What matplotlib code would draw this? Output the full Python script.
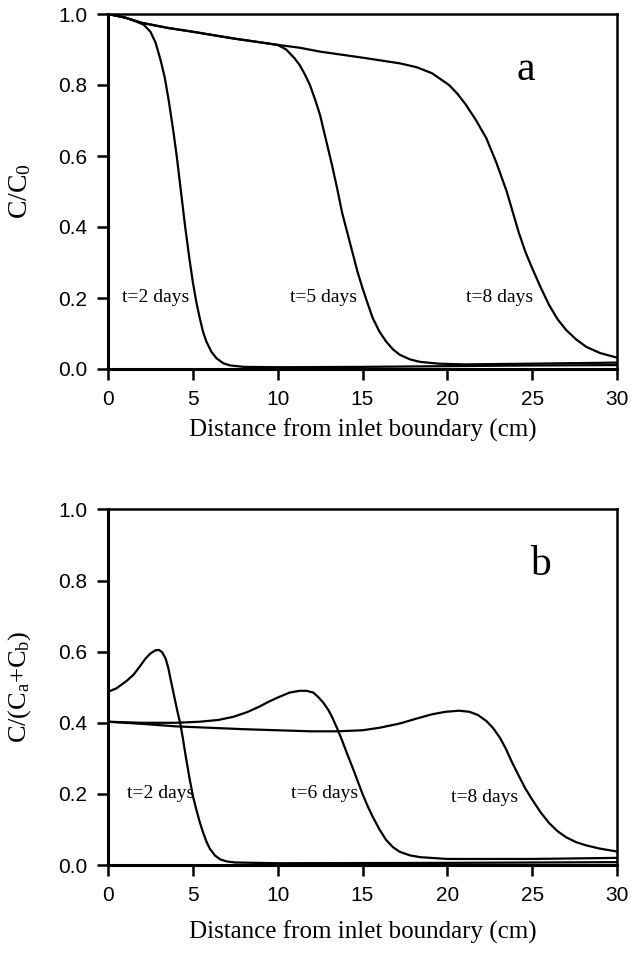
import numpy as np
import matplotlib
matplotlib.use("Agg")
import matplotlib.pyplot as plt

plt.rcParams['mathtext.fontset'] = 'custom'
plt.rcParams['mathtext.rm'] = 'Liberation Serif'
plt.rcParams['mathtext.it'] = 'Liberation Serif:italic'

# ---- panel a : C/C0 profiles ----
a_t2_x = [0, 1.0, 1.6, 2.1, 2.5, 2.8, 3.1, 3.35, 3.6, 3.85, 4.05, 4.3, 4.55, 4.8, 5.0, 5.2,
          5.4, 5.6, 5.8, 6.1, 6.4, 6.8, 7.2, 8, 10, 15, 20, 25, 30]
a_t2_y = [1.0, 0.99, 0.98, 0.97, 0.95, 0.92, 0.87, 0.82, 0.75, 0.67, 0.60, 0.50, 0.40, 0.31,
          0.245, 0.19, 0.145, 0.105, 0.077, 0.048, 0.03, 0.016, 0.01, 0.006, 0.005, 0.006,
          0.008, 0.01, 0.011]

a_t5_x = [0, 1, 2, 3.5, 5, 7.4, 9, 10, 10.5, 11, 11.3, 11.6, 11.9, 12.2, 12.5, 12.85, 13.2,
          13.5, 13.8, 14.1, 14.4, 14.7, 15.0, 15.3, 15.6, 16.0, 16.4, 16.8, 17.2, 17.8, 18.4,
          19.5, 21, 25, 30]
a_t5_y = [1.0, 0.99, 0.975, 0.961, 0.95, 0.931, 0.92, 0.913, 0.90, 0.875, 0.856, 0.83, 0.80,
          0.76, 0.715, 0.645, 0.575, 0.51, 0.44, 0.385, 0.33, 0.275, 0.228, 0.185, 0.144,
          0.105, 0.077, 0.055, 0.04, 0.027, 0.02, 0.015, 0.013, 0.015, 0.018]

a_t8_x = [0, 1, 2, 3.5, 5, 7.4, 10, 11.3, 12.5, 15, 17.2, 18.2, 19.1, 20.1, 20.6, 21.1, 21.7,
          22.3, 22.9, 23.5, 24.2, 24.6, 25.0, 25.5, 26.0, 26.5, 27.0, 27.6, 28.2, 29.0, 30]
a_t8_y = [1.0, 0.99, 0.975, 0.961, 0.95, 0.931, 0.913, 0.905, 0.894, 0.877, 0.861, 0.85,
          0.833, 0.80, 0.775, 0.744, 0.70, 0.65, 0.58, 0.50, 0.386, 0.33, 0.284, 0.23, 0.18,
          0.14, 0.11, 0.083, 0.062, 0.045, 0.032]

# ---- panel b : C/(Ca+Cb) profiles ----
b_t2_x = [0, 0.5, 1.1, 1.5, 1.9, 2.2, 2.5, 2.8, 3.0, 3.2, 3.4, 3.55, 3.7, 3.9, 4.1, 4.25, 4.4,
          4.55, 4.8, 5.0, 5.2, 5.4, 5.6, 5.8, 6.0, 6.3, 6.6, 7.0, 7.5, 10, 20, 30]
b_t2_y = [0.487, 0.497, 0.518, 0.535, 0.56, 0.58, 0.595, 0.604, 0.605, 0.598, 0.58, 0.555,
          0.52, 0.475, 0.43, 0.40, 0.36, 0.315, 0.245, 0.195, 0.157, 0.122, 0.092, 0.066,
          0.046, 0.027, 0.016, 0.01, 0.007, 0.005, 0.006, 0.008]

b_t6_x = [0, 2, 4, 5.4, 6.5, 7.4, 8.2, 8.9, 9.5, 10.1, 10.7, 11.3, 11.7, 12.1, 12.4, 12.7,
          13.0, 13.2, 13.5, 13.8, 14.1, 14.4, 14.7, 15.0, 15.3, 15.6, 16.0, 16.4, 16.8, 17.2,
          17.8, 18.4, 20, 25, 30]
b_t6_y = [0.403, 0.400, 0.400, 0.403, 0.408, 0.417, 0.43, 0.445, 0.46, 0.473, 0.485, 0.49,
          0.49, 0.485, 0.472, 0.456, 0.435, 0.417, 0.385, 0.35, 0.312, 0.276, 0.238, 0.20,
          0.166, 0.136, 0.10, 0.07, 0.05, 0.037, 0.027, 0.022, 0.017, 0.017, 0.02]

b_t8_x = [0, 2, 4, 6, 8, 10, 12, 13.5, 15, 16, 17.2, 18.2, 19.1, 19.9, 20.7, 21.3, 21.8,
          22.3, 22.7, 23.1, 23.45, 23.8, 24.2, 24.6, 25.0, 25.5, 26.0, 26.5, 27.0, 27.6,
          28.2, 29, 30]
b_t8_y = [0.403, 0.397, 0.39, 0.386, 0.382, 0.379, 0.376, 0.376, 0.379, 0.386, 0.398, 0.412,
          0.424, 0.431, 0.434, 0.431, 0.422, 0.405, 0.385, 0.358, 0.327, 0.29, 0.252, 0.215,
          0.184, 0.148, 0.118, 0.095, 0.078, 0.064, 0.055, 0.046, 0.038]

x_ticks = [0, 5, 10, 15, 20, 25, 30]
y_ticks = [0.0, 0.2, 0.4, 0.6, 0.8, 1.0]

a_labels = [("t=2 days", 0.8, 0.2), ("t=5 days", 10.7, 0.2), ("t=8 days", 21.1, 0.2)]
b_labels = [("t=2 days", 1.1, 0.2), ("t=6 days", 10.8, 0.2), ("t=8 days", 20.2, 0.19)]

serif = "Liberation Serif"
sans = "Liberation Sans"

fig = plt.figure(figsize=(6.31, 9.55), dpi=100)
W, H = 631.0, 955.0
ax_a = fig.add_axes([108 / W, 1 - 369 / H, 509 / W, 355 / H])
ax_b = fig.add_axes([108 / W, 1 - 865 / H, 509 / W, 355.5 / H])


def style(ax, ylabel, xlab_y, ysize):
    ax.set_xlim(0, 30)
    ax.set_ylim(0, 1)
    ax.set_xticks(x_ticks)
    ax.set_yticks(y_ticks)
    ax.set_xticklabels([str(v) for v in x_ticks], fontfamily=sans, fontsize=15)
    ax.set_yticklabels(["%.1f" % v for v in y_ticks], fontfamily=sans, fontsize=15)
    ax.tick_params(direction='out', length=8, width=1.8, pad=7, top=False, right=False)
    for s in ['left', 'bottom']:
        ax.spines[s].set_linewidth(2.2)
    for s in ['top', 'right']:
        ax.spines[s].set_linewidth(1.8)
    ax.set_xlabel("Distance from inlet boundary (cm)", fontfamily=serif, fontsize=18)
    ax.xaxis.set_label_coords(0.5, xlab_y)
    ax.set_ylabel(ylabel, fontfamily=serif, fontsize=ysize)
    ax.yaxis.set_label_coords(-0.148, 0.5)


lw = 1.6
ax_a.plot(a_t8_x, a_t8_y, color='black', lw=lw, solid_joinstyle='round')
ax_a.plot(a_t5_x, a_t5_y, color='black', lw=lw, solid_joinstyle='round')
ax_a.plot(a_t2_x, a_t2_y, color='black', lw=lw, solid_joinstyle='round')
for txt, x, y in a_labels:
    ax_a.text(x, y, txt, fontfamily=serif, fontsize=14, ha='left', va='center')
ax_a.text(24.6, 0.814, "a", fontfamily=serif, fontsize=30, ha='center', va='baseline')
style(ax_a, r"C/C$_\mathrm{0}$", -0.14, 20)

ax_b.plot(b_t8_x, b_t8_y, color='black', lw=lw, solid_joinstyle='round')
ax_b.plot(b_t6_x, b_t6_y, color='black', lw=lw, solid_joinstyle='round')
ax_b.plot(b_t2_x, b_t2_y, color='black', lw=lw, solid_joinstyle='round')
for txt, x, y in b_labels:
    ax_b.text(x, y, txt, fontfamily=serif, fontsize=14, ha='left', va='center')
ax_b.text(25.5, 0.816, "b", fontfamily=serif, fontsize=30, ha='center', va='baseline')
style(ax_b, r"C/(C$_\mathrm{a}$+C$_\mathrm{b}$)", -0.157, 19)

fig.savefig("out.png", dpi=100)
